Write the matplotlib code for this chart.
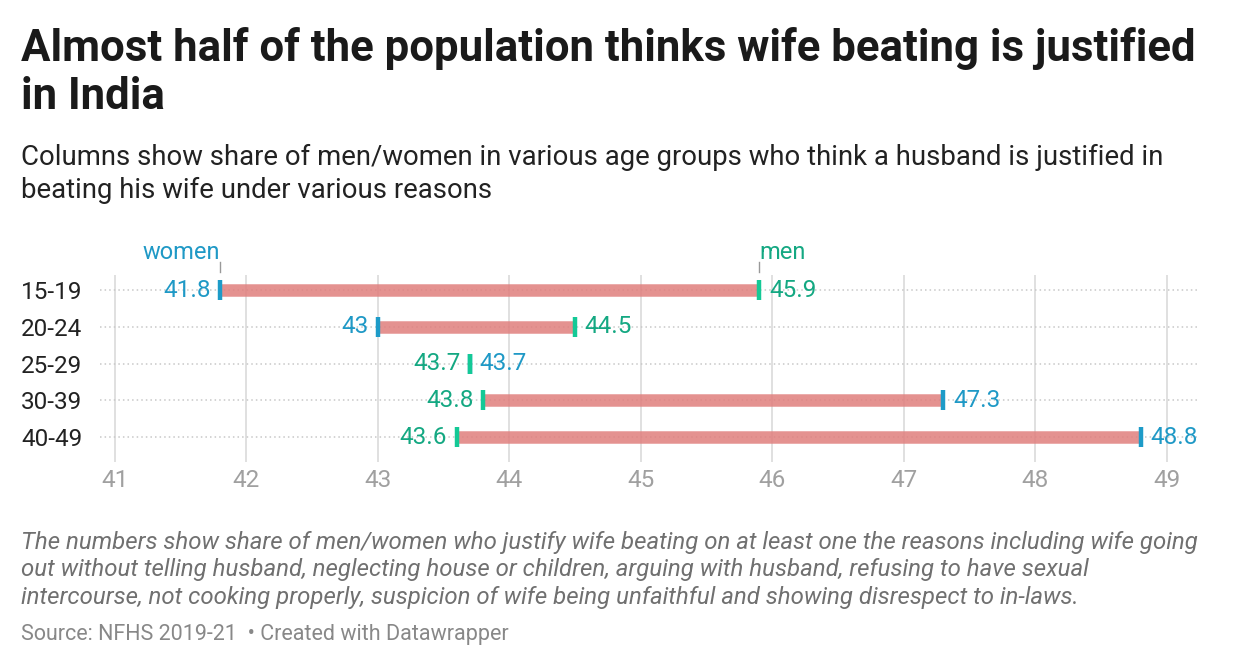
import matplotlib.pyplot as plt

plt.rcParams['font.family'] = ['Roboto', 'DejaVu Sans']

# data
age_groups = ['15-19', '20-24', '25-29', '30-39', '40-49']
women = [41.8, 43, 43.7, 47.3, 48.8]
men = [45.9, 44.5, 43.7, 43.8, 43.6]
xticks = [41, 42, 43, 44, 45, 46, 47, 48, 49]

BLUE = '#1d9bc8'
GREEN = '#14c996'
BLUE_TXT = '#1f99c6'
GREEN_TXT = '#14a882'
BAR = '#e07f7d'

fig = plt.figure(figsize=(12.4, 6.68), dpi=100)
ax = fig.add_axes([0.0806, 0.3084, 0.966 - 0.0806, 0.5883 - 0.3084])

ys = list(range(len(age_groups)))

for y in ys:
    ax.axhline(y, color='#c8c8c8', lw=1.1, ls=(0, (1, 2)), zorder=1)
for t in xticks:
    ax.axvline(t, color='#dddddd', lw=1.3, zorder=0)

for y, w, m in zip(ys, women, men):
    ax.plot([w, m], [y, y], color=BAR, lw=9, alpha=0.85, solid_capstyle='butt', zorder=2)
    ax.plot([w], [y], marker='|', ms=14, mew=3.2, color=BLUE, zorder=3)
    ax.plot([m], [y], marker='|', ms=14, mew=3.2, color=GREEN, zorder=4)
    if w < m:
        left, lc, right, rc = w, BLUE_TXT, m, GREEN_TXT
    else:
        left, lc, right, rc = m, GREEN_TXT, w, BLUE_TXT
    ax.annotate(f'{left:g}', (min(w, m), y), xytext=(-7, 0), textcoords='offset points',
                ha='right', va='center', color=lc, fontsize=17.5)
    ax.annotate(f'{right:g}', (max(w, m), y), xytext=(7, 0), textcoords='offset points',
                ha='left', va='center', color=rc, fontsize=17.5)

# series labels above first row
ax.annotate('women', (women[0], -0.41), xytext=(0, 8), textcoords='offset points',
            ha='right', va='bottom', color=BLUE_TXT, fontsize=17, annotation_clip=False)
ax.annotate('men', (men[0], -0.41), xytext=(0, 8), textcoords='offset points',
            ha='left', va='bottom', color=GREEN_TXT, fontsize=17, annotation_clip=False)
for v in (women[0], men[0]):
    ax.plot([v, v], [-0.5, -0.76], color='#999999', lw=1, clip_on=False)

ax.set_xlim(40.886, 49.236)
ax.set_ylim(4.68, -0.41)
ax.set_xticks(xticks)
ax.set_xticklabels([str(t) for t in xticks], color='#a0a0a0', fontsize=17.5)
ax.set_yticks(ys)
ax.set_yticklabels(age_groups, fontsize=17.5, color='#222222')
ax.tick_params(axis='both', length=0)
ax.tick_params(axis='x', pad=5)
ax.tick_params(axis='y', pad=0)
for lab in ax.get_yticklabels():
    lab.set_horizontalalignment('left')
    lab.set_x(-0.0717)
for s in ax.spines.values():
    s.set_visible(False)

fig.text(0.017, 0.96, 'Almost half of the population thinks wife beating is justified\nin India',
         fontsize=31.5, fontweight='bold', va='top', ha='left', color='#1a1a1a', linespacing=1.2)
fig.text(0.017, 0.785, 'Columns show share of men/women in various age groups who think a husband is justified in\nbeating his wife under various reasons',
         fontsize=19.8, va='top', ha='left', color='#222222', linespacing=1.3)
fig.text(0.017, 0.205, 'The numbers show share of men/women who justify wife beating on at least one the reasons including wife going\n'
         'out without telling husband, neglecting house or children, arguing with husband, refusing to have sexual\n'
         'intercourse, not cooking properly, suspicion of wife being unfaithful and showing disrespect to in-laws.',
         fontsize=17.3, style='italic', va='top', ha='left', color='#707070', linespacing=1.24)
fig.text(0.017, 0.035, 'Source: NFHS 2019-21  \u2022 Created with Datawrapper',
         fontsize=15.5, va='bottom', ha='left', color='#888888')

fig.savefig('out.png', dpi=100, facecolor='white')
